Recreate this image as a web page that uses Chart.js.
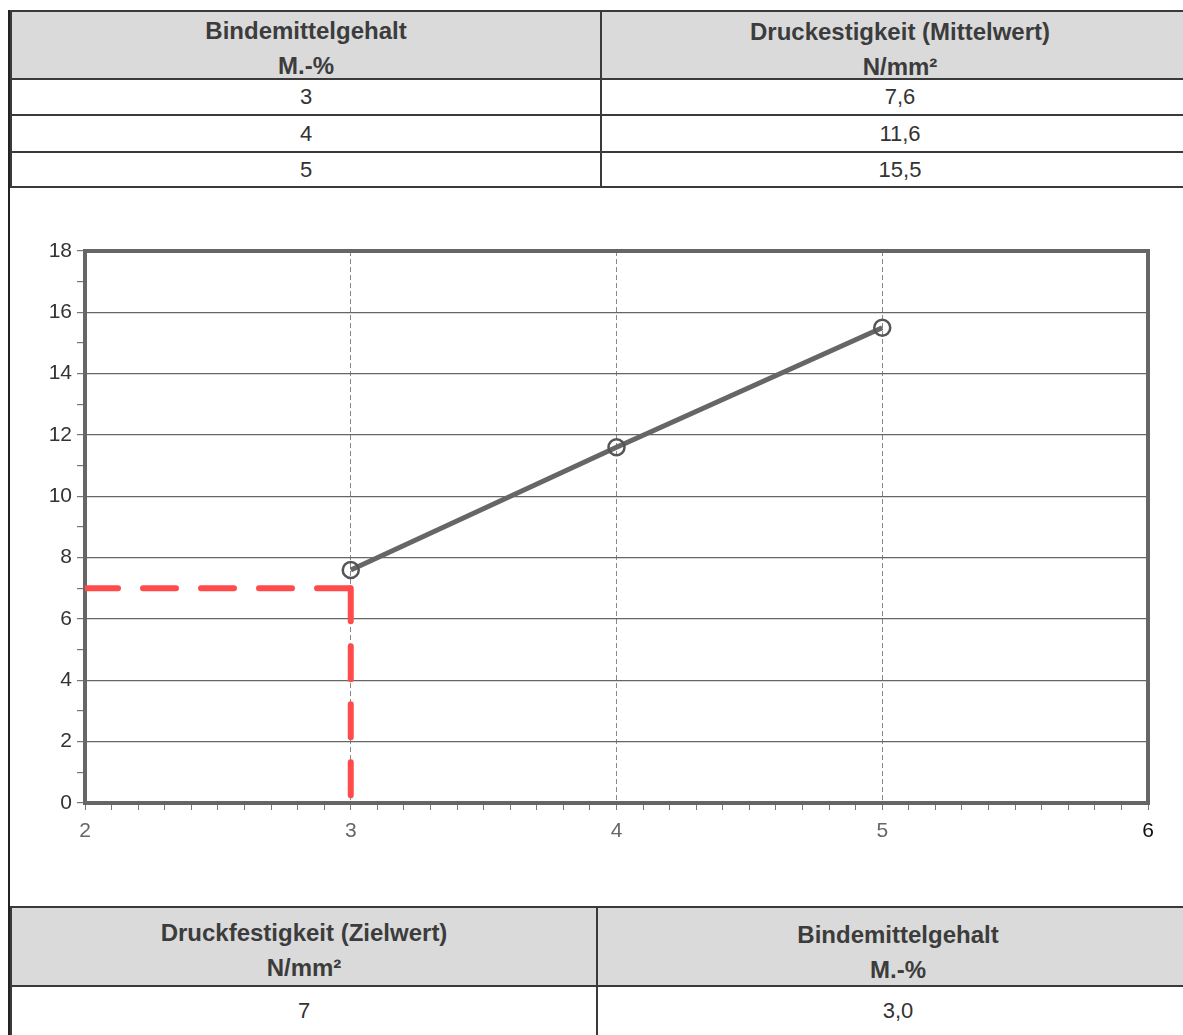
<!DOCTYPE html>
<html>
<head>
<meta charset="utf-8">
<script src="https://cdn.jsdelivr.net/npm/chart.js@4/dist/chart.umd.min.js"></script>
<style>
  body { margin: 0; background: #fff; font-family: "Liberation Sans", Arial, sans-serif; width: 1183px; height: 1035px; overflow: hidden; position: relative; }
  table { position: absolute; border-collapse: collapse; table-layout: fixed; color: #333; }
  td { border: 2px solid #3a3a3a; text-align: center; padding: 0; font-size: 22px; }
  td.head { background: #dadada; font-weight: bold; font-size: 24px; color: #3c3c3c; vertical-align: top; }
  td.head div { line-height: 35px; }
  #frame { position: absolute; left: 8px; top: 10px; width: 2px; height: 1025px; background: #222; }
  #chartBox { position: absolute; left: 0; top: 188px; width: 1183px; height: 717px; }
</style>
</head>
<body>
<table id="topTable" style="left:10px; top:10px; width:1190px;">
  <colgroup><col style="width:590px"><col></colgroup>
</table>
<div id="chartBox"><canvas id="chart"></canvas></div>
<table id="bottomTable" style="left:10px; top:906px; width:1190px;">
  <colgroup><col style="width:586px"><col></colgroup>
</table>
<div id="frame"></div>
<script>
// Messwerte
var binder = [3, 4, 5];                 // Bindemittelgehalt M.-%
var strength = [7.6, 11.6, 15.5];       // Druckfestigkeit (Mittelwert) N/mm²
var targetStrength = 7;                 // Druckfestigkeit (Zielwert)
var targetBinder = 3.0;

var xMin = 2, xMax = 6;
var yMin = 0, yMax = 18;

var deNum = function (v, d) {
    return v.toFixed(d).replace('.', ',');
};

var headCell = function (l1, l2, top) {
    return '<td class="head"><div style="margin-top:' + top + 'px;margin-bottom:-8px">' + l1 + '<br>' + l2 + '</div></td>';
};

// Tabellen
var topRows = '<tr style="height:68px">' +
    headCell('Bindemittelgehalt', 'M.-%', 1) +
    headCell('Druckestigkeit (Mittelwert)', 'N/mm²', 2) + '</tr>';
var rowHeights = [36, 37, 35];
binder.forEach(function (b, i) {
    topRows += '<tr style="height:' + rowHeights[i] + 'px"><td>' + b + '</td><td>' + deNum(strength[i], 1) + '</td></tr>';
});
document.getElementById('topTable').innerHTML += topRows;

document.getElementById('bottomTable').innerHTML +=
    '<tr style="height:79px">' +
    headCell('Druckfestigkeit (Zielwert)', 'N/mm²', 7) +
    headCell('Bindemittelgehalt', 'M.-%', 9) + '</tr>' +
    '<tr style="height:50px"><td>' + targetStrength + '</td><td>' + deNum(targetBinder, 1) + '</td></tr>';

// Rahmen um die Zeichenfläche
var plotBox = {
    id: 'plotBox',
    beforeDatasetsDraw: function (chart) {
        var a = chart.chartArea, ctx = chart.ctx;
        ctx.save();
        ctx.strokeStyle = '#666';
        ctx.lineWidth = 4;
        ctx.strokeRect(a.left, a.top, a.right - a.left, a.bottom - a.top);
        ctx.restore();
    }
};

var isInt = function (v) { return Math.abs(v - Math.round(v)) < 1e-6; };

var redLine = {
    showLine: true,
    borderColor: '#ff4b4b',
    borderWidth: 6,
    borderDash: [33, 25],
    borderCapStyle: 'round',
    pointRadius: 0
};

var ctx = document.getElementById('chart').getContext('2d');
var chart = new Chart(ctx, {
    type: 'scatter',
    data: {
        datasets: [{
            label: 'Druckfestigkeit',
            data: binder.map(function (b, i) { return { x: b, y: strength[i] }; }),
            showLine: true,
            borderColor: '#666',
            borderWidth: 5,
            pointRadius: 8,
            pointBorderWidth: 2.5,
            pointBorderColor: '#555',
            pointBackgroundColor: 'rgba(0,0,0,0)'
        }, Object.assign({
            label: 'Zielwert',
            data: [{ x: xMin, y: targetStrength }, { x: targetBinder, y: targetStrength }]
        }, redLine), Object.assign({
            label: 'Bindemittelgehalt',
            data: [{ x: targetBinder, y: targetStrength }, { x: targetBinder, y: yMin }]
        }, redLine)]
    },
    options: {
        responsive: true,
        maintainAspectRatio: false,
        animation: false,
        layout: { padding: { top: 63, right: 35, left: 0, bottom: 0 } },
        plugins: { legend: { display: false }, tooltip: { enabled: false } },
        scales: {
            x: {
                type: 'linear',
                min: xMin, max: xMax,
                afterFit: function (s) { s.height = 102; },
                ticks: {
                    stepSize: 0.1,
                    autoSkip: false,
                    maxRotation: 0,
                    padding: 9,
                    font: { family: 'Liberation Sans', size: 21 },
                    color: function (c) { return c.tick && Math.round(c.tick.value) === xMax ? '#111' : '#666'; },
                    callback: function (v) { return isInt(v) ? Math.round(v) : ''; }
                },
                grid: {
                    color: function (c) {
                        var v = c.tick ? c.tick.value : 0;
                        return isInt(v) && v > xMin && v < xMax ? '#888' : 'rgba(0,0,0,0)';
                    },
                    tickColor: '#777',
                    tickLength: 7,
                    lineWidth: 1
                },
                border: { display: false, dash: [5, 3] }
            },
            y: {
                min: yMin, max: yMax,
                afterFit: function (s) { s.width = 85; },
                ticks: {
                    stepSize: 1,
                    autoSkip: false,
                    padding: 5,
                    font: { family: 'Liberation Sans', size: 21 },
                    color: '#333',
                    callback: function (v) { return v % 2 === 0 ? v : ''; }
                },
                grid: {
                    color: function (c) {
                        var v = c.tick ? c.tick.value : 0;
                        return v % 2 === 0 && v > yMin && v < yMax ? '#666' : 'rgba(0,0,0,0)';
                    },
                    tickColor: '#777',
                    tickLength: 8,
                    lineWidth: 1.2
                },
                border: { display: false }
            }
        }
    },
    plugins: [plotBox]
});
</script>
</body>
</html>
